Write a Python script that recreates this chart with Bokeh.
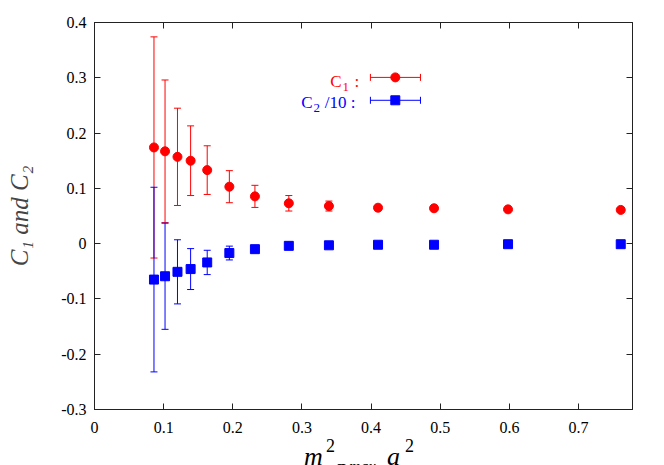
from bokeh.plotting import figure
from bokeh.models import (ColumnDataSource, Whisker, TeeHead, Label, LinearAxis,
                          FixedTicker, Range1d, Div)
from bokeh.layouts import column
from bokeh.embed import file_html
from bokeh.resources import INLINE

# ---- data ----
x_vals = [0.086, 0.102, 0.120, 0.139, 0.163, 0.195, 0.232, 0.281, 0.339, 0.410, 0.491, 0.598, 0.761]
c1 = [0.174, 0.167, 0.157, 0.150, 0.133, 0.103, 0.0855, 0.073, 0.068, 0.065, 0.064, 0.062, 0.061]
c1_err = [0.200, 0.129, 0.088, 0.063, 0.044, 0.029, 0.020, 0.014, 0.009, 0.004, 0.002, 0.002, 0.002]
c2 = [-0.065, -0.059, -0.051, -0.046, -0.034, -0.017, -0.010, -0.004, -0.003, -0.002, -0.002, -0.001, -0.001]
c2_err = [0.167, 0.096, 0.058, 0.037, 0.022, 0.0125, 0.004, 0.002, 0.001, 0.001, 0.001, 0.001, 0.001]

x_ticks = [0, 0.1, 0.2, 0.3, 0.4, 0.5, 0.6, 0.7]
x_tick_labels = ["0", "0.1", "0.2", "0.3", "0.4", "0.5", "0.6", "0.7"]
y_ticks = [-0.3, -0.2, -0.1, 0, 0.1, 0.2, 0.3, 0.4]
y_tick_labels = ["-0.3", "-0.2", "-0.1", "0", "0.1", "0.2", "0.3", "0.4"]

y_label = "C\u2081 and C\u2082"

RED = "#ff0000"
BLUE = "#0000ff"
SERIF = "Liberation Serif"

src1 = ColumnDataSource(dict(x=x_vals, y=c1,
                             lo=[v - e for v, e in zip(c1, c1_err)],
                             hi=[v + e for v, e in zip(c1, c1_err)]))
src2 = ColumnDataSource(dict(x=x_vals, y=c2,
                             lo=[v - e for v, e in zip(c2, c2_err)],
                             hi=[v + e for v, e in zip(c2, c2_err)]))

p = figure(width=664, height=439, output_backend="svg", toolbar_location=None,
           x_range=Range1d(0, 0.778), y_range=Range1d(-0.3, 0.4),
           min_border_left=94, min_border_right=32, min_border_top=22, min_border_bottom=30)
p.grid.visible = False
p.outline_line_color = "#222222"
p.background_fill_color = "white"
p.border_fill_color = "white"

def style_axis(ax, ticks, labels, show_labels=True):
    ax.ticker = FixedTicker(ticks=ticks)
    if show_labels:
        ax.major_label_overrides = {t: l for t, l in zip(ticks, labels)}
    else:
        ax.major_label_overrides = {t: "" for t in ticks}
    ax.major_tick_in = 6
    ax.major_tick_out = 0
    ax.minor_tick_in = 0
    ax.minor_tick_out = 0
    ax.axis_line_color = "#222222"
    ax.major_tick_line_color = "#222222"
    ax.major_label_text_font = SERIF
    ax.major_label_text_font_size = "16px"
    ax.major_label_text_color = "black"

style_axis(p.xaxis[0], x_ticks, x_tick_labels)
style_axis(p.yaxis[0], y_ticks, y_tick_labels)
p.xaxis[0].major_label_standoff = 12
p.yaxis[0].major_label_standoff = 8

top_ax = LinearAxis()
right_ax = LinearAxis()
style_axis(top_ax, x_ticks, x_tick_labels, show_labels=False)
style_axis(right_ax, y_ticks, y_tick_labels, show_labels=False)
top_ax.major_label_standoff = 0
right_ax.major_label_standoff = 0
p.add_layout(top_ax, "above")
p.add_layout(right_ax, "right")

p.yaxis[0].axis_label = y_label
p.yaxis[0].axis_label_text_font = SERIF
p.yaxis[0].axis_label_text_font_style = "italic"
p.yaxis[0].axis_label_text_font_size = "25px"
p.yaxis[0].axis_label_standoff = 25

# ---- error bars ----
for src, col in ((src1, RED), (src2, BLUE)):
    p.add_layout(Whisker(source=src, base="x", lower="lo", upper="hi", line_color=col, line_width=1,
                         upper_head=TeeHead(size=7, line_color=col, line_width=1),
                         lower_head=TeeHead(size=7, line_color=col, line_width=1),
                         level="underlay"))

p.scatter("x", "y", source=src1, marker="circle", size=9, fill_color=RED, line_color=RED)
p.scatter("x", "y", source=src2, marker="square", size=9, fill_color=BLUE, line_color=BLUE)

def add_text(t, x, y, size, color="black", style="normal"):
    p.add_layout(Label(x=x, y=y, text=t, text_align="left", text_baseline="alphabetic",
                       text_font=SERIF, text_font_size=size, text_font_style=style,
                       text_color=color))

# ---- legend (drawn by hand: label left of sample) ----
leg_y = [0.3007, 0.2593]
leg_colors = [RED, BLUE]
leg_markers = ["circle", "square"]
leg_x_lo, leg_x_mid, leg_x_hi = 0.399, 0.435, 0.4714
for i in range(2):
    s = ColumnDataSource(dict(y=[leg_y[i]], lo=[leg_x_lo], hi=[leg_x_hi], mx=[leg_x_mid]))
    p.add_layout(Whisker(source=s, base="y", lower="lo", upper="hi", dimension="width",
                         line_color=leg_colors[i], line_width=1,
                         upper_head=TeeHead(size=7, line_color=leg_colors[i]),
                         lower_head=TeeHead(size=7, line_color=leg_colors[i]), level="underlay"))
    p.scatter("mx", "y", source=s, marker=leg_markers[i], size=9,
              fill_color=leg_colors[i], line_color=leg_colors[i])

# C1 :
add_text("C", 0.341, 0.2935, "17px", RED)
add_text("1", 0.3585, 0.2835, "13px", RED)
add_text(":", 0.376, 0.2935, "17px", RED)
# C2 /10 :
add_text("C", 0.299, 0.2555, "17px", BLUE)
add_text("2", 0.3166, 0.2455, "13px", BLUE)
add_text("/10 :", 0.333, 0.2555, "17px", BLUE)

# ---- x axis label  m^2_{pi max} a^2 (HTML, below the plot) ----
def span(t, left, top, size, italic):
    st = "italic" if italic else "normal"
    return (f'<span style="position:absolute;left:{left}px;top:{top}px;font-size:{size}px;'
            f'font-style:{st};line-height:1;white-space:nowrap">{t}</span>')

xlabel_html = (
    '<div style="position:relative;width:664px;height:26px;overflow:hidden;'
    "font-family:'Liberation Serif',serif;color:black\">"
    + span("m", 304, 5, 26, True)
    + span("2", 326, -2, 18, False)
    + span("\u03c0 max", 337, 20, 16, True)
    + span("a", 387, 5, 26, True)
    + span("2", 405, -2, 18, False)
    + "</div>"
)
xlabel = Div(text=xlabel_html, width=664, height=26, margin=0,
             styles={"overflow": "hidden"})

layout = column(p, xlabel, spacing=0)
open("out.html", "w").write(file_html(layout, INLINE))
